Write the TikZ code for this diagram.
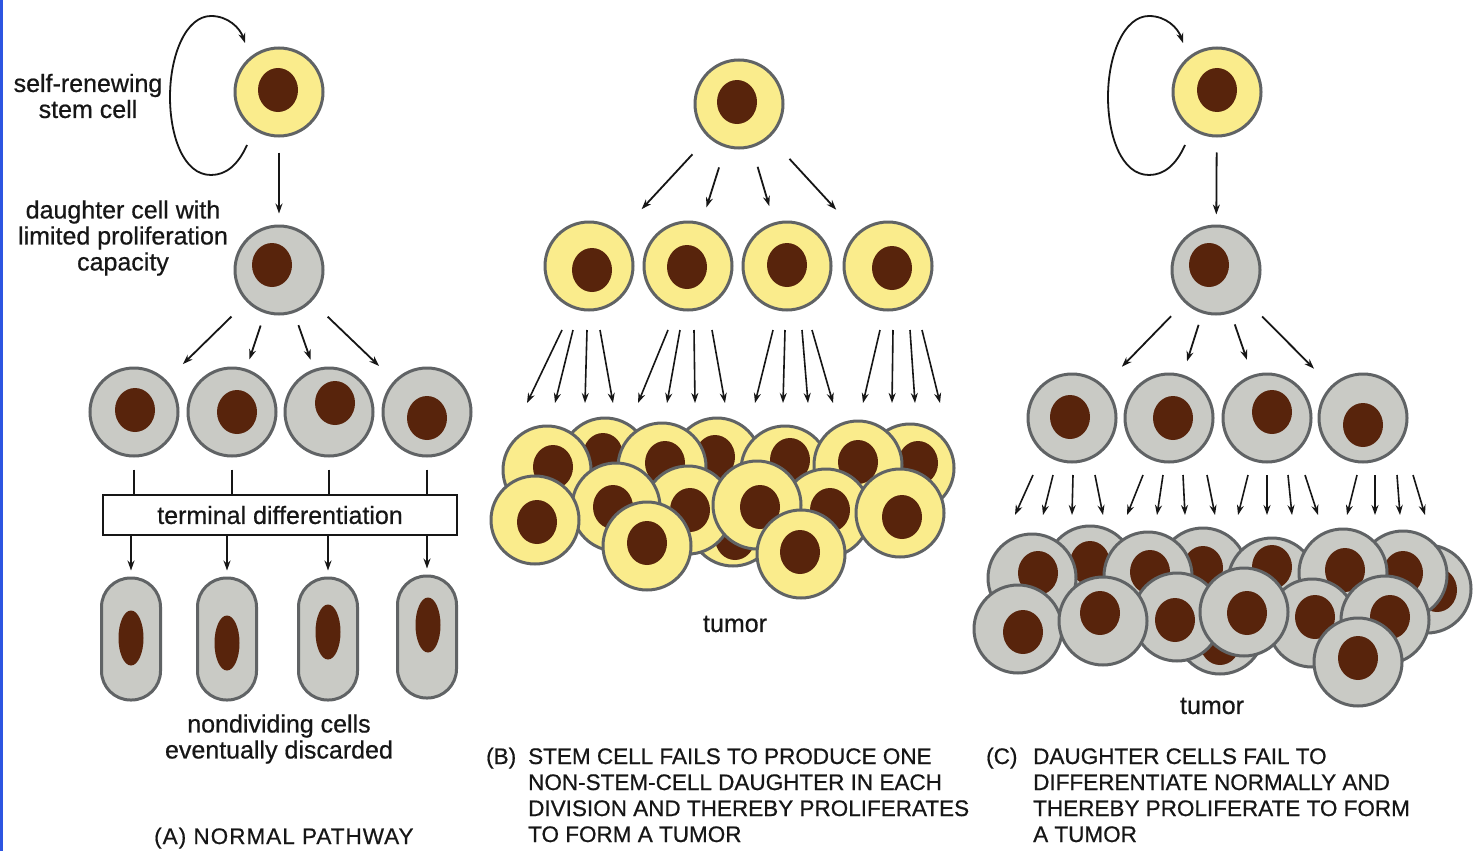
\documentclass[tikz,border=0pt]{standalone}
\usepackage{fontspec}
\setmainfont{Liberation Sans}
\newfontfamily\medsans{Liberation Sans}[FakeBold=0.6]
\usetikzlibrary{shapes.geometric, arrows.meta, calc}

\definecolor{cyto}{RGB}{250,236,140}
\definecolor{grayc}{RGB}{201,202,197}
\definecolor{ring}{RGB}{96,99,101}
\definecolor{nucleus}{RGB}{88,36,12}
\definecolor{ink}{RGB}{22,22,22}
\definecolor{edgeblue}{RGB}{45,85,225}

% a cell body with its nucleus: style, name, cell centre, nucleus centre
\newcommand\cellnode[4]{%
  \node[#1] (#2) at (#3) {};
  \node[nuc] (#2-n) at (#4) {};
}
% self-renewal loop drawn round a stem cell
\newcommand\renewloop[1]{%
  \begin{scope}[shift={(#1.center)}]
    \draw[arr] (-32,53) .. controls (-41,73) and (-53,83) .. (-68,83)
      .. controls (-96,83) and (-109,43) .. (-109,5)
      .. controls (-109,-37) and (-93,-76) .. (-68,-76)
      .. controls (-51,-76) and (-39,-64) .. (-34,-49);
  \end{scope}
}

\tikzset{
  ycell/.style={circle, draw=ring, line width=3pt, fill=cyto, minimum size=88pt, inner sep=0pt},
  gcell/.style={ycell, fill=grayc},
  nuc/.style={ellipse, fill=nucleus, minimum width=40pt, minimum height=44pt, inner sep=0pt},
  capsule/.style={rectangle, rounded corners=29pt, draw=ring, line width=3pt, fill=grayc,
    minimum width=59pt, minimum height=122pt, inner sep=0pt},
  longnuc/.style={ellipse, fill=nucleus, minimum width=25pt, minimum height=55pt, inner sep=0pt},
  arr/.style={draw=ink, line width=1.8pt, -{Stealth[length=10pt,width=7pt]}},
  fanarr/.style={arr, line width=1.6pt},
  link/.style={draw=ink, line width=1.8pt},
  lab/.style={font=\medsans\fontsize{25}{26}\selectfont, text=ink, inner sep=0pt, align=center},
  captext/.style={font=\medsans\fontsize{22.5}{26}\selectfont, text=ink, inner sep=0pt, anchor=base west},
}

\begin{document}
\begin{tikzpicture}[x=1pt, y=-1pt]
\fill[white] (0,0) rectangle (1480,851);
\path[use as bounding box] (0,0) rectangle (1480,851);
\fill[edgeblue] (0,0) rectangle (2.5,851);

%% ---------------- (A) normal pathway ----------------
\cellnode{ycell}{sA}{279,92}{278,90}
\cellnode{gcell}{dA}{279,270}{272,265}
\renewloop{sA}
\draw[arr, shorten <=15pt, shorten >=11pt] (sA) -- (dA);

\node[lab] (lblStemA) at (88,96) {self-renewing\\stem cell};
\node[lab] (lblDaughter) at (123,238) {daughter cell with\\limited proliferation\\capacity};

\cellnode{gcell}{cA1}{134,412}{135,410}
\cellnode{gcell}{cA2}{232,412}{237,412}
\cellnode{gcell}{cA3}{329,412}{335,403}
\cellnode{gcell}{cA4}{427,412}{427,418}

\draw[arr, shorten <=21pt, shorten >=23pt] (dA) -- (cA1);
\draw[arr, shorten <=13pt, shorten >=10pt] (dA) -- (cA2);
\draw[arr, shorten <=13pt, shorten >=10pt] (dA) -- (cA3);
\draw[arr, shorten <=22pt, shorten >=21pt] (dA) -- (cA4);

\node[lab, draw=ink, line width=1.3pt, fill=white, minimum width=354pt, minimum height=40pt]
  (td) at (280,515) {terminal differentiation};

\node[capsule] (tA1) at (131,639) {};
\node[capsule] (tA2) at (227,639) {};
\node[capsule] (tA3) at (328,639) {};
\node[capsule] (tA4) at (427,637) {};
\node[longnuc] (tA1-n) at (131,638) {};
\node[longnuc] (tA2-n) at (227,643) {};
\node[longnuc] (tA3-n) at (328,632) {};
\node[longnuc] (tA4-n) at (428,625) {};

\foreach \c/\t in {cA1/tA1, cA2/tA2, cA3/tA3, cA4/tA4} {
  \draw[link, shorten <=12pt] (\c.south) -- (\c.south |- td.north);
  \draw[arr, shorten >=6pt] (\t.north |- td.south) -- (\t.north);
}

\node[lab] (lblNondiv) at (279,739) {nondividing cells\\eventually discarded};
\node[captext] (capA) at (154,844) {\addfontfeature{LetterSpace=4.5}(A) NORMAL PATHWAY};

%% ---------------- (B) stem cell fails to make a non-stem daughter ----------------
\cellnode{ycell}{sB}{739,104}{737,102}
\cellnode{ycell}{cB1}{589,266}{592,270}
\cellnode{ycell}{cB2}{688,266}{687,267}
\cellnode{ycell}{cB3}{787,266}{787,265}
\cellnode{ycell}{cB4}{888,266}{892,268}

\draw[arr, shorten <=23pt, shorten >=32pt] (sB) -- (cB1);
\draw[arr, shorten <=21pt, shorten >=16pt] (sB) -- (cB2);
\draw[arr, shorten <=20pt, shorten >=17pt] (sB) -- (cB3);
\draw[arr, shorten <=29pt, shorten >=31pt] (sB) -- (cB4);

\foreach \cn/\offs in {cB1/{-27/-62,-16/-34,-2/-4,11/24},
                       cB2/{-20/-50,-8/-21,6/7,24/37},
                       cB3/{-14/-32,-2/-4,15/21,25/46},
                       cB4/{-8/-25,5/4,22/27,34/52}} {
  \foreach \u/\v in \offs {
    \draw[fanarr] ($(\cn)+(\u,64)$) -- ($(\cn)+(\v,137)$);
  }
}

% tumour of stem-like cells, back to front
\cellnode{ycell}{tb2}{605,462}{603,455}
\cellnode{ycell}{tb4}{717,462}{715,457}
\cellnode{ycell}{tb7}{910,468}{918,463}
\cellnode{ycell}{tb1}{547,470}{553,467}
\cellnode{ycell}{tb3}{662,467}{665,463}
\cellnode{ycell}{tb5}{785,470}{790,460}
\cellnode{ycell}{tb6}{858,465}{858,462}
\cellnode{ycell}{th}{733,522}{735,538}
\cellnode{ycell}{tf5}{826,513}{830,510}
\cellnode{ycell}{tf3}{688,510}{690,510}
\cellnode{ycell}{tf2}{616,507}{613,507}
\cellnode{ycell}{tf1}{535,520}{537,522}
\cellnode{ycell}{tf4}{757,505}{760,507}
\cellnode{ycell}{tf6}{900,513}{902,517}
\cellnode{ycell}{tff1}{647,546}{647,543}
\cellnode{ycell}{tff2}{801,554}{800,552}

\node[lab] (lblTumorB) at (735,624) {tumor};

\node[captext] (capB0) at (486,764) {(B)};
\node[captext] (capB1) at (528,764) {STEM CELL FAILS TO PRODUCE ONE};
\node[captext] (capB2) at (528,790) {NON-STEM-CELL DAUGHTER IN EACH};
\node[captext] (capB3) at (528,816) {DIVISION AND THEREBY PROLIFERATES};
\node[captext] (capB4) at (528,842) {TO FORM A TUMOR};

%% ---------------- (C) daughters fail to differentiate ----------------
\cellnode{ycell}{sC}{1217,92}{1217,90}
\cellnode{gcell}{dC}{1216,270}{1209,265}
\renewloop{sC}
\draw[arr, shorten <=15pt, shorten >=10pt] (sC) -- (dC);

\cellnode{gcell}{cC1}{1072,418}{1070,417}
\cellnode{gcell}{cC2}{1169,418}{1173,418}
\cellnode{gcell}{cC3}{1267,418}{1272,412}
\cellnode{gcell}{cC4}{1363,418}{1363,425}

\draw[arr, shorten <=19pt, shorten >=26pt] (dC) -- (cC1);
\draw[arr, shorten <=12pt, shorten >=14pt] (dC) -- (cC2);
\draw[arr, shorten <=12pt, shorten >=16pt] (dC) -- (cC3);
\draw[arr, shorten <=20pt, shorten >=24pt] (dC) -- (cC4);

\foreach \cn/\offs in {cC1/{-39/-57,-19/-29,1/0,23/31},
                       cC2/{-26/-42,-6/-12,14/16,38/46},
                       cC3/{-19/-29,0/0,21/25,38/51},
                       cC4/{-6/-16,12/12,34/37,50/62}} {
  \foreach \u/\v in \offs {
    \draw[fanarr] ($(\cn)+(\u,57)$) -- ($(\cn)+(\v,97)$);
  }
}

% tumour of daughter cells, back to front
\cellnode{gcell}{ub2}{1090,570}{1090,563}
\cellnode{gcell}{ub4}{1203,572}{1203,568}
\cellnode{gcell}{ub8}{1427,589}{1437,590}
\cellnode{gcell}{ub7}{1403,575}{1403,573}
\cellnode{gcell}{ub1}{1032,578}{1038,573}
\cellnode{gcell}{ub3}{1148,576}{1150,572}
\cellnode{gcell}{ub5}{1272,582}{1272,567}
\cellnode{gcell}{ub6}{1343,573}{1345,570}
\cellnode{gcell}{uh}{1220,630}{1220,643}
\cellnode{gcell}{um3}{1177,617}{1175,620}
\cellnode{gcell}{um5}{1312,623}{1315,617}
\cellnode{gcell}{um1}{1018,629}{1023,632}
\cellnode{gcell}{um2}{1103,621}{1100,613}
\cellnode{gcell}{um4}{1244,612}{1247,613}
\cellnode{gcell}{um6}{1385,620}{1390,617}
\cellnode{gcell}{uf}{1358,662}{1358,658}

\node[lab] (lblTumorC) at (1212,706) {tumor};

\node[captext] (capC0) at (986,764) {(C)};
\node[captext] (capC1) at (1033,764) {DAUGHTER CELLS FAIL TO};
\node[captext] (capC2) at (1033,790) {DIFFERENTIATE NORMALLY AND};
\node[captext] (capC3) at (1033,816) {THEREBY PROLIFERATE TO FORM};
\node[captext] (capC4) at (1033,842) {A TUMOR};
\end{tikzpicture}
\end{document}
